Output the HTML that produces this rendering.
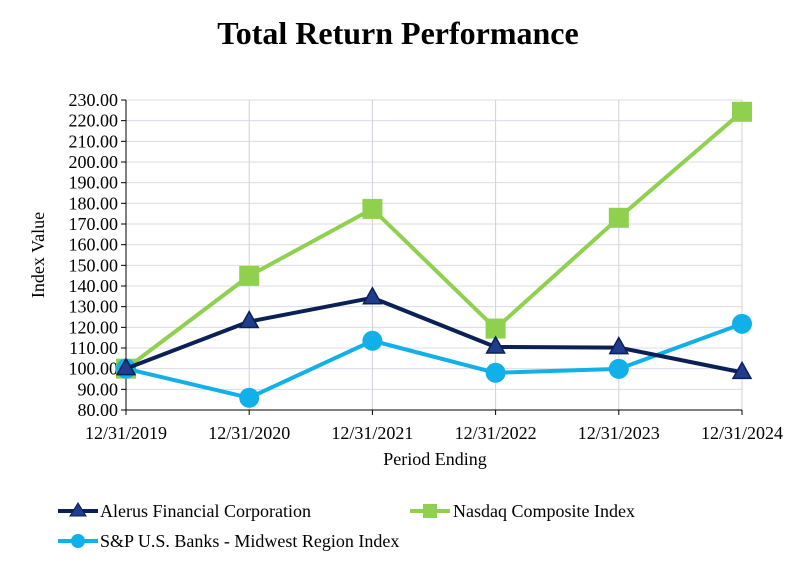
<!DOCTYPE html>
<html><head><meta charset="utf-8"><style>
body{margin:0;background:#fff;width:795px;height:565px;overflow:hidden;font-family:"Liberation Serif",serif}
</style></head><body>
<svg id="c" width="795" height="565" font-family="Liberation Serif, serif">
<text x="398" y="44" text-anchor="middle" font-size="32" font-weight="bold">Total Return Performance</text>
<text transform="translate(44,255) rotate(-90)" text-anchor="middle" font-size="18">Index Value</text>
<text x="435" y="465" text-anchor="middle" font-size="18">Period Ending</text>
<g id="grid"></g><g id="axes"></g><g id="series"></g>
<g font-size="18">
<g><line x1="58" y1="511" x2="98" y2="511" stroke="#0b2055" stroke-width="4"/><polygon points="78,503 86,516 70,516" fill="#1f3d8c" stroke="#0b2055"/><text x="100" y="517">Alerus Financial Corporation</text></g>
<g><line x1="410" y1="511" x2="450" y2="511" stroke="#8fd14f" stroke-width="4"/><rect x="423" y="504" width="14" height="14" fill="#8fd14f"/><text x="453" y="517">Nasdaq Composite Index</text></g>
<g><line x1="58" y1="541" x2="98" y2="541" stroke="#12b0e8" stroke-width="4"/><circle cx="78" cy="541" r="7" fill="#12b0e8"/><text x="100" y="547">S&amp;P U.S. Banks - Midwest Region Index</text></g>
</g>
</svg>
<script>
const categories=["12/31/2019","12/31/2020","12/31/2021","12/31/2022","12/31/2023","12/31/2024"];
const alerus=[100,122.8,134.3,110.5,110.2,98.2];
const nasdaq=[100,144.9,177.3,119.4,173.0,224.3];
const banks=[100,85.9,113.5,98.0,99.9,121.7];
const yTicks=[80,90,100,110,120,130,140,150,160,170,180,190,200,210,220,230];
const NS="http://www.w3.org/2000/svg";
const X0=126,X1=742,Y0=410,Y1=100,ymin=80,ymax=230;
const xs=i=>X0+i*(X1-X0)/(categories.length-1);
const ys=v=>Y0-(v-ymin)/(ymax-ymin)*(Y0-Y1);
function mk(p,t,a){const e=document.createElementNS(NS,t);for(const k in a)e.setAttribute(k,a[k]);p.appendChild(e);return e;}
const grid=document.getElementById('grid'),axes=document.getElementById('axes'),ser=document.getElementById('series');
yTicks.forEach(v=>{
 const l=mk(grid,'line',{x1:X0,x2:X1,y1:ys(v),y2:ys(v),stroke:'#dcdce6','stroke-width':1});
 
 
 mk(axes,'line',{x1:X0-5,x2:X0,y1:ys(v),y2:ys(v),stroke:'#000'});
 const t=mk(axes,'text',{x:X0-8,y:ys(v)+6,'text-anchor':'end','font-size':18});
 t.textContent=v.toFixed(2);
 
 
});
categories.forEach((c,i)=>{
 if(i>0){const g=mk(grid,'line',{x1:xs(i),x2:xs(i),y1:Y1,y2:Y0,stroke:'#d0d0dc'});
 
 }
 mk(axes,'line',{x1:xs(i),x2:xs(i),y1:Y0,y2:Y0+5,stroke:'#000'});
 const t=mk(axes,'text',{x:xs(i),y:Y0+29,'text-anchor':'middle','font-size':18});
 t.textContent=c;
 
 
});
mk(axes,'line',{x1:X0,x2:X0,y1:Y1,y2:Y0,stroke:'#000'});
mk(axes,'line',{x1:X0,x2:X1,y1:Y0,y2:Y0,stroke:'#000'});
function draw(vals,color,name,marker){
 const g=mk(ser,'g',{});
 
 
 const p=mk(g,'polyline',{points:vals.map((v,i)=>xs(i)+','+ys(v)).join(' '),fill:'none',stroke:color,'stroke-width':4,'stroke-linejoin':'round'});
 
 
 vals.forEach((v,i)=>{
  const x=xs(i),y=ys(v);let m;
  if(marker==='tri')m=mk(g,'polygon',{points:`${x},${y-10} ${x+9},${y+6} ${x-9},${y+6}`,fill:'#1f3d8c',stroke:'#0b2055','stroke-width':1.5});
  else if(marker==='sq')m=mk(g,'rect',{x:x-10,y:y-10,width:20,height:20,fill:color});
  else m=mk(g,'circle',{cx:x,cy:y,r:10,fill:color});
  
  
 });
}
draw(nasdaq,'#8fd14f','nasdaq','sq');
draw(banks,'#12b0e8','banks','circ');
draw(alerus,'#0b2055','alerus','tri');
</script>
</body></html>
